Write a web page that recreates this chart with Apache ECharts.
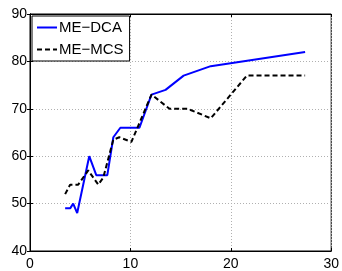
<!DOCTYPE html>
<html>
<head>
<meta charset="utf-8">
<script src="https://cdn.jsdelivr.net/npm/echarts@6/dist/echarts.min.js"></script>
<style>
html, body { margin: 0; padding: 0; background: #fff; }
#chart { width: 342px; height: 271px; }
</style>
</head>
<body>
<div id="chart"></div>
<script>
// values: [x, y]
var dcaData = [
  [3.5, 49], [4.0, 49], [4.3, 50], [4.7, 48], [5.9, 60], [6.6, 56], [7.7, 56],
  [8.3, 64], [9.0, 66], [10.9, 66], [12.1, 73], [13.5, 74], [15.3, 77],
  [18.0, 79], [27.4, 82]
]
var mcsData = [
  [3.5, 52], [4.0, 54], [4.8, 54], [5.8, 57], [6.8, 54], [7.3, 55.5],
  [8.3, 63.5], [8.9, 64], [10.1, 63], [12.1, 73], [13.9, 70], [15.7, 70],
  [18.0, 68], [21.6, 77], [27.4, 77]
]
var seriesNames = ['ME\u2212DCA', 'ME\u2212MCS']

var myChart = echarts.init(document.getElementById('chart'))
var font = 'Liberation Sans, Arial, sans-serif'
var gridLine = { show: true, lineStyle: { color: '#b0b0b0', type: [1, 2], width: 1 } }

var option = {
  backgroundColor: '#fff',
  animation: false,
  textStyle: { fontFamily: font },
  grid: { left: 30, right: 9, top: 14, bottom: 19, show: true, borderColor: '#000', borderWidth: 1 },
  legend: {
    data: seriesNames,
    orient: 'vertical',
    left: 32,
    top: 16,
    backgroundColor: '#fff',
    borderColor: '#000',
    borderWidth: 1,
    borderRadius: 0,
    padding: [4, 6, 4, 4],
    itemWidth: 20,
    itemHeight: 12,
    itemGap: 7,
    itemStyle: { opacity: 0 },
    textStyle: { fontFamily: font, fontSize: 15, color: '#000', padding: [0, 0, 0, -3] }
  },
  xAxis: [
    {
      type: 'value', min: 0, max: 30, interval: 10,
      axisLine: { show: true, lineStyle: { color: '#000', width: 1 } },
      axisTick: { show: true, inside: true, length: 3, lineStyle: { color: '#000' } },
      axisLabel: { color: '#000', fontSize: 14, margin: 6, fontFamily: font },
      splitLine: gridLine
    },
    {
      type: 'value', min: 0, max: 30, interval: 10, position: 'top',
      axisLine: { show: true, lineStyle: { color: '#000' } },
      axisTick: { show: true, inside: true, length: 3, lineStyle: { color: '#000' } },
      axisLabel: { show: false },
      splitLine: { show: false }
    }
  ],
  yAxis: [
    {
      type: 'value', min: 40, max: 90, interval: 10,
      axisLine: { show: true, lineStyle: { color: '#000', width: 1 } },
      axisTick: { show: true, inside: true, length: 3, lineStyle: { color: '#000' } },
      axisLabel: { color: '#000', fontSize: 14, margin: 3, fontFamily: font },
      splitLine: gridLine
    },
    {
      type: 'value', min: 40, max: 90, interval: 10, position: 'right',
      axisLine: { show: true, lineStyle: { color: '#000' } },
      axisTick: { show: true, inside: true, length: 3, lineStyle: { color: '#000' } },
      axisLabel: { show: false },
      splitLine: { show: false }
    }
  ],
  series: [
    {
      name: seriesNames[0],
      type: 'line',
      data: dcaData,
      symbol: 'none',
      color: '#0000ff',
      lineStyle: { color: '#0000ff', width: 2 }
    },
    {
      name: seriesNames[1],
      type: 'line',
      data: mcsData,
      symbol: 'none',
      color: '#000',
      lineStyle: { color: '#000', width: 2, type: [5, 3] }
    }
  ]
}
myChart.setOption(option)
</script>
</body>
</html>
